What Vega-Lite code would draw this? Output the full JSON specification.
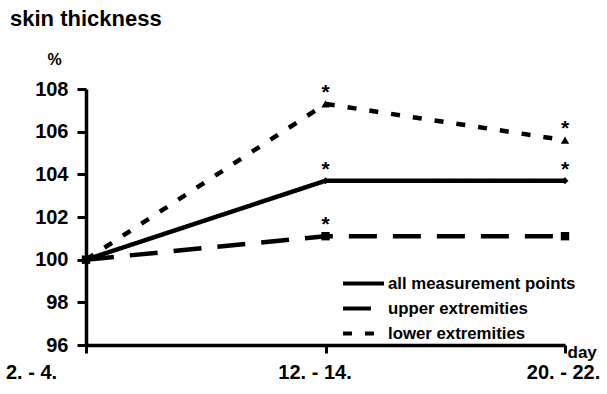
{
  "$schema": "https://vega.github.io/schema/vega-lite/v6.json",
  "width": 479,
  "height": 256,
  "autosize": "none",
  "padding": {"left": 86, "top": 89, "right": 42, "bottom": 49},
  "background": "white",
  "title": {"text": "skin thickness", "anchor": "start", "frame": "group", "dx": -76, "offset": 3, "fontSize": 22, "font": "Liberation Sans", "fontWeight": "bold", "color": "black", "baseline": "alphabetic"},
  "data": {"values": [
    {"day": "2. - 4.", "series": "all measurement points", "value": 100, "star": false},
    {"day": "12. - 14.", "series": "all measurement points", "value": 103.7, "star": true},
    {"day": "20. - 22.", "series": "all measurement points", "value": 103.7, "star": true},
    {"day": "2. - 4.", "series": "upper extremities", "value": 100, "star": false},
    {"day": "12. - 14.", "series": "upper extremities", "value": 101.1, "star": true},
    {"day": "20. - 22.", "series": "upper extremities", "value": 101.1, "star": false},
    {"day": "2. - 4.", "series": "lower extremities", "value": 100, "star": false},
    {"day": "12. - 14.", "series": "lower extremities", "value": 107.3, "star": true},
    {"day": "20. - 22.", "series": "lower extremities", "value": 105.6, "star": true}
  ]},
  "encoding": {
    "x": {"field": "day", "type": "ordinal", "sort": ["2. - 4.", "12. - 14.", "20. - 22."],
      "scale": {"type": "point", "padding": 0},
      "axis": {"labelAngle": 0, "title": "day", "titleAngle": 0, "titleX": 481, "titleY": 12, "titleAlign": "left", "titleBaseline": "alphabetic", "titleFontSize": 17,
        "labelFontSize": 20, "tickSize": 8, "labelPadding": 9, "labelFlush": false,
        "labelOffset": {"expr": "datum.value === '2. - 4.' ? -55 : (datum.value === '12. - 14.' ? -11 : -2)"}}},
    "y": {"field": "value", "type": "quantitative", "scale": {"domain": [96, 108], "nice": false, "zero": false},
      "axis": {"values": [96, 98, 100, 102, 104, 106, 108], "title": "%", "titleAngle": 0, "titleX": -32, "titleY": -25, "titleAlign": "center", "titleBaseline": "alphabetic", "titleFontSize": 16,
        "labelFontSize": 20, "tickSize": 9, "labelPadding": 9}}
  },
  "layer": [
    {
      "mark": {"type": "line", "color": "black", "strokeWidth": 4.5},
      "encoding": {
        "strokeDash": {"field": "series", "type": "nominal",
          "scale": {"domain": ["all measurement points", "upper extremities", "lower extremities"], "range": [[1, 0], [28, 16], [9, 13]]},
          "legend": {"orient": "none", "legendX": 267, "legendY": 184, "title": null, "symbolType": "M-2.5,0H2.5", "symbolSize": 270, "symbolStrokeWidth": 4, "symbolStrokeColor": "black", "symbolFillColor": "transparent",
            "labelFontSize": 16.8, "labelFont": "Liberation Sans", "labelFontWeight": "bold", "labelColor": "black", "labelLimit": 300, "rowPadding": 5, "labelOffset": 14}}
      }
    },
    {
      "transform": [{"filter": "datum.series === 'all measurement points'"}],
      "mark": {"type": "point", "shape": "diamond", "filled": true, "color": "black", "opacity": 1, "size": 50}
    },
    {
      "transform": [{"filter": "datum.series === 'upper extremities'"}],
      "mark": {"type": "point", "shape": "square", "filled": true, "color": "black", "opacity": 1, "size": 70}
    },
    {
      "transform": [{"filter": "datum.series === 'lower extremities'"}],
      "mark": {"type": "point", "shape": "triangle-up", "filled": true, "color": "black", "opacity": 1, "size": 70}
    },
    {
      "transform": [{"filter": "datum.star"}],
      "mark": {"type": "text", "text": "*", "fontSize": 21, "fontWeight": "bold", "font": "Liberation Sans", "color": "black", "baseline": "alphabetic", "dy": -5}
    }
  ],
  "config": {
    "view": {"stroke": null},
    "font": "Liberation Sans",
    "axis": {"domainColor": "black", "domainWidth": 3.5, "tickColor": "black", "tickWidth": 3, "grid": false,
      "labelFont": "Liberation Sans", "labelFontWeight": "bold", "labelColor": "black",
      "titleFont": "Liberation Sans", "titleFontWeight": "bold", "titleColor": "black"}
  }
}
